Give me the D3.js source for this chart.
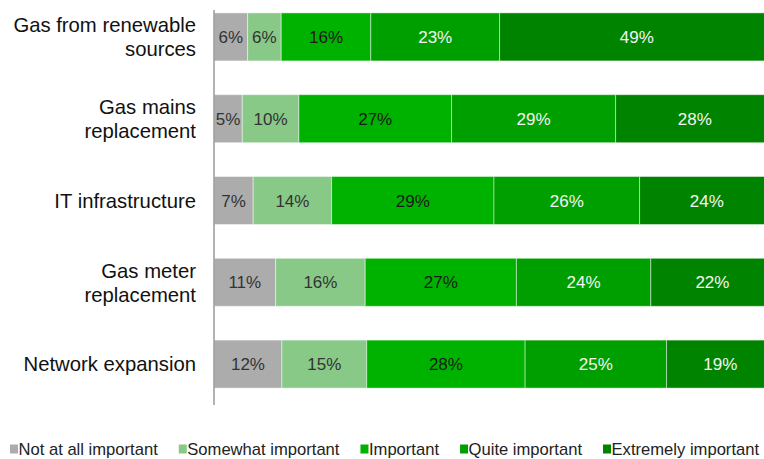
<!DOCTYPE html>
<html>
<head>
<meta charset="utf-8">
<script src="https://cdn.jsdelivr.net/npm/d3@7"></script>
<style>
  body { margin: 0; background: #fff; overflow: hidden; }
  svg { display: block; font-family: "Liberation Sans", Arial, sans-serif; }
</style>
</head>
<body>
<svg id="chart"></svg>
<script>
// categories (top to bottom), each label split into lines
const categories = ["Gas from renewable sources", "Gas mains replacement", "IT infrastructure", "Gas meter replacement", "Network expansion"];
const categoryLines = [["Gas from renewable", "sources"], ["Gas mains", "replacement"], ["IT infrastructure"], ["Gas meter", "replacement"], ["Network expansion"]];
const levels = ["Not at all important", "Somewhat important", "Important", "Quite important", "Extremely important"];

// percent per level, one array per level in category order
const notAtAll = [6, 5, 7, 11, 12];
const somewhat = [6, 10, 14, 16, 15];
const important = [16, 27, 29, 27, 28];
const quite = [23, 29, 26, 24, 25];
const extremely = [49, 28, 24, 22, 19];

const colors = ["#acacac", "#88c988", "#00b200", "#009f00", "#008400"];
const labelColors = ["#333", "#333", "#1a1a1a", "#f4f4f4", "#f4f4f4"];

const width = 764, height = 459;
const svg = d3.select("#chart").attr("width", width).attr("height", height);

const series = [notAtAll, somewhat, important, quite, extremely];
const rows = categories.map((c, i) => {
    const row = { name: c };
    levels.forEach((l, j) => row[l] = series[j][i]);
    return row;
});
// the bars are drawn as a 100% stack (rows that sum to 99 get stretched)
const stack = d3.stack().keys(levels).offset(d3.stackOffsetExpand);
const stacked = stack(rows);

// the plot runs a little past the right edge of the picture (cropped)
const x = d3.scaleLinear().domain([0, 1]).range([214, 774]);
const y = d3.scaleBand().domain(categories).range([-4, 405]).paddingInner(0.413).paddingOuter(0.2065);

// bars
const layer = svg.selectAll("g.layer").data(stacked).join("g").attr("class", "layer")
    .attr("fill", (d, i) => colors[i]);
layer.selectAll("rect").data(d => d).join("rect")
    .attr("x", d => x(d[0]))
    .attr("width", d => x(d[1]) - x(d[0]))
    .attr("y", d => y(d.data.name))
    .attr("height", y.bandwidth())
    .attr("stroke", "rgba(255,255,255,0.45)")
    .attr("stroke-width", 1);

// value labels
layer.selectAll("text").data((d, i) => d.map(s => ({ s: s, key: d.key, i: i })))
    .join("text")
    .attr("x", d => (x(d.s[0]) + x(d.s[1])) / 2)
    .attr("y", d => y(d.s.data.name) + y.bandwidth() / 2)
    .attr("dy", "0.36em")
    .attr("text-anchor", "middle")
    .attr("font-size", "17px")
    .attr("fill", d => labelColors[d.i])
    .text(d => d.s.data[d.key] + "%");

// axis line
svg.append("line")
    .attr("x1", x(0)).attr("x2", x(0))
    .attr("y1", 10).attr("y2", 405)
    .attr("stroke", "#9a9a9a").attr("stroke-width", 1.5);

// category labels
const lineH = 24;
svg.selectAll("text.cat").data(categories).join("text").attr("class", "cat")
    .attr("text-anchor", "end")
    .attr("font-size", "20.3px")
    .attr("fill", "#111")
    .each(function (d, i) {
        const lines = categoryLines[i];
        const cy = y(d) + y.bandwidth() / 2;
        d3.select(this).selectAll("tspan").data(lines).join("tspan")
            .attr("x", 196)
            .attr("y", (l, k) => cy + (k - (lines.length - 1) / 2) * lineH)
            .attr("dy", "0.36em")
            .text(l => l);
    });

// legend
const legend = svg.append("g").attr("transform", "translate(10,449)");
let lx = 0;
levels.forEach((l, i) => {
    const g = legend.append("g").attr("transform", `translate(${lx},0)`);
    g.append("rect").attr("x", 0).attr("y", -4.5).attr("width", 8).attr("height", 9).attr("fill", colors[i]);
    const t = g.append("text").attr("x", 8.5).attr("dy", "0.36em")
        .attr("font-size", "16.6px").attr("fill", "#222").text(l);
    lx += 8.5 + t.node().getComputedTextLength() + 21;
});
</script>
</body>
</html>
